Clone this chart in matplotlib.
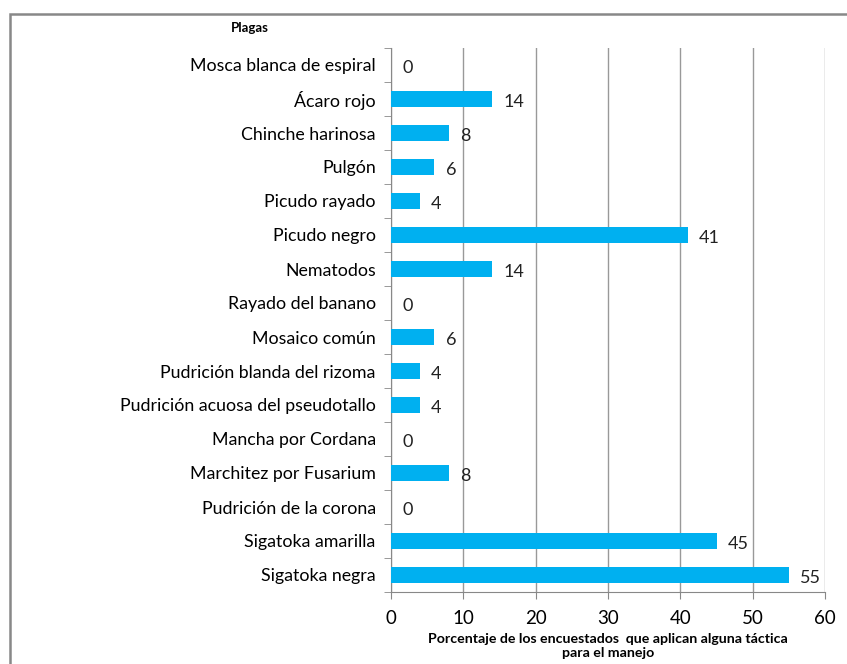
import matplotlib.pyplot as plt
from matplotlib.patches import Rectangle
import numpy as np

# Datos
plagas = ["Mosca blanca de espiral", "Ácaro rojo", "Chinche harinosa", "Pulgón",
          "Picudo rayado", "Picudo negro", "Nematodos", "Rayado del banano",
          "Mosaico común", "Pudrición blanda del rizoma",
          "Pudrición acuosa del pseudotallo", "Mancha por Cordana",
          "Marchitez por Fusarium", "Pudrición de la corona",
          "Sigatoka amarilla", "Sigatoka negra"]
porcentaje = [0, 14, 8, 6, 4, 41, 14, 0, 6, 4, 4, 0, 8, 0, 45, 55]

plt.rcParams['font.family'] = ['Lato', 'DejaVu Sans']

fig = plt.figure(figsize=(8.47, 6.64), dpi=100)
ax = fig.add_axes([391/847, 72/664, 434/847, 544/664])

y = np.arange(len(plagas))
ax.barh(y, porcentaje, height=0.45, color="#00B0F0", zorder=3)

for yi, v in zip(y, porcentaje):
    ax.annotate(str(v), (v, yi), xytext=(8, -2), textcoords="offset points",
                va="center", ha="left", fontsize=13, color="#222222")

ax.set_yticks(y)
ax.set_yticklabels(plagas, fontsize=12.8)
ax.set_ylim(len(plagas) - 0.5, -0.5)
ax.set_yticks(np.arange(len(plagas) + 1) - 0.5, minor=True)
ax.tick_params(axis="y", which="major", length=0, pad=11)
ax.tick_params(axis="y", which="minor", length=5, color="#888888")

ax.set_xlim(0, 60)
ax.set_xticks(np.arange(0, 61, 10))
ax.tick_params(axis="x", labelsize=13.5, length=5, color="#888888", pad=8)
ax.grid(axis="x", color="#999999", linewidth=1, zorder=0)

for s in ["top", "right"]:
    ax.spines[s].set_visible(False)
for s in ["left", "bottom"]:
    ax.spines[s].set_color("#888888")

ax.set_xlabel("Porcentaje de los encuestados  que aplican alguna táctica\npara el manejo",
              fontsize=10.2, fontweight="bold", labelpad=4)
fig.text(250/847, 1 - 28/664, "Plagas", fontsize=9.5, fontweight="bold",
         ha="center", va="center")

# marco exterior
fig.patches.append(Rectangle((10/847, -0.1), 1.2, 1 - 14/664 + 0.1,
                             transform=fig.transFigure, fill=False,
                             edgecolor="#888888", linewidth=1.8))

fig.savefig("out.png", dpi=100)
